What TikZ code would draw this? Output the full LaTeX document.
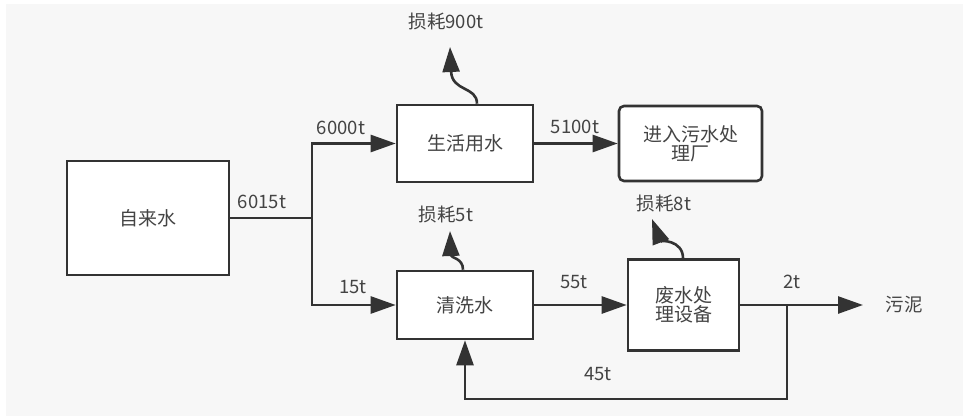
\documentclass[tikz,border=0pt]{standalone}
\usepackage{fontspec}
\setmainfont{Noto Sans CJK SC}
\usetikzlibrary{arrows.meta}
\definecolor{bg}{HTML}{F7F7F7}
\definecolor{ln}{HTML}{333333}
\definecolor{tx}{HTML}{444444}
\begin{document}
\begin{tikzpicture}[x=1pt,y=-1pt,
  box/.style={draw=ln,line width=2.6pt,fill=white,inner sep=0pt,align=center,text=tx,font=\fontsize{19}{22}\selectfont},
  lbl/.style={text=tx,inner sep=0pt,font=\fontsize{18.5}{22}\selectfont},
  flow/.style={draw=ln,line width=2.6pt,-{Triangle[length=25pt,width=17pt]}},
  wire/.style={draw=ln,line width=2.6pt}]
\fill[white] (0,0) rectangle (963,417);
\fill[bg] (6,4) rectangle (963,416);
\useasboundingbox (0,0) rectangle (963,417);
% boxes
\node[box,minimum width=162pt,minimum height=114pt] (src) at (148,218) {自来水};
\node[box,minimum width=136pt,minimum height=77pt] (live) at (465,143.5) {生活用水};
\node[box,rounded corners=5pt,minimum width=143pt,minimum height=75pt] (plant) at (690.5,143.5) {进入污水处\\[-3pt]理厂};
\node[box,minimum width=136pt,minimum height=68pt] (wash) at (465,305) {清洗水};
\node[box,minimum width=111pt,minimum height=91pt] (treat) at (683.5,305) {废水处\\[-3pt]理设备};
\node[lbl] (mud) at (904,305) {污泥};
% junctions
\coordinate (j1) at (312,218);
\coordinate (j2) at (787,305);
\coordinate (mudend) at (863,305);
% loss labels
\node[lbl] (l1) at (446,22) {损耗900t};
\node[lbl] (l2) at (446,215) {损耗5t};
\node[lbl] (l3) at (664,204) {损耗8t};
\coordinate (t1) at (450,47);
\coordinate (t2) at (450,231);
\coordinate (t3) at (652,219);
% connectors
\draw[wire] (src.east) -- (j1);
\draw[flow] (j1) |- (live.west);
\draw[flow] (j1) |- (wash.west);
\draw[flow] (live.east) -- (plant.west);
\draw[flow] (wash.east) -- (treat.west);
\draw[wire] (treat.east) -- (j2);
\draw[flow] (j2) -- (mudend);
\draw[flow] (j2) -- ++(0,94) -| (wash.south);
\draw[flow] (live.north -| 477,0) .. controls (477,86) and (452,92) .. (t1);
\draw[flow] (wash.north -| 463,0) .. controls (463,258) and (451,258) .. (t2);
\draw[flow] (treat.north -| 683,0) .. controls (683,240) and (660,240) .. (t3);
% flow labels
\node[lbl] (a1) at (341,128) {6000t};
\node[lbl] (a2) at (262,202) {6015t};
\node[lbl] (a3) at (353,287) {15t};
\node[lbl] (a4) at (575,127) {5100t};
\node[lbl] (a5) at (574,282) {55t};
\node[lbl] (a6) at (792,282) {2t};
\node[lbl] (a7) at (598,374) {45t};
\end{tikzpicture}
\end{document}
